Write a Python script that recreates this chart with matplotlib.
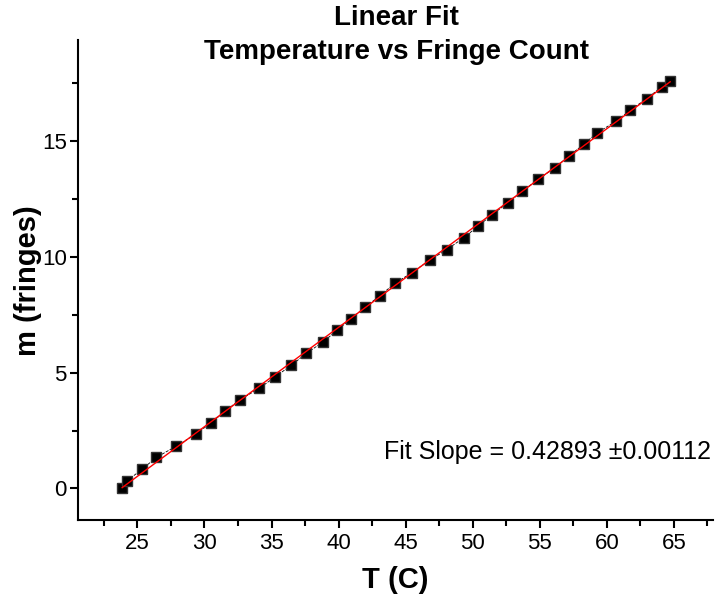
import matplotlib.pyplot as plt
from matplotlib.ticker import MultipleLocator
import numpy as np

plt.rcParams.update({
    "font.family": ["Liberation Sans", "DejaVu Sans"],
    "font.size": 16,
})

# Data
temp = [23.86, 24.23, 25.34, 26.41, 27.90, 29.33, 30.49, 31.56, 32.67, 34.08,
        35.27, 36.48, 37.59, 38.85, 39.89, 40.89, 42.00, 43.06, 44.18, 45.47,
        46.78, 48.06, 49.35, 50.41, 51.45, 52.64, 53.70, 54.87, 56.11, 57.15,
        58.26, 59.27, 60.68, 61.75, 62.96, 64.09, 64.72]
fringes = [0.00, 0.33, 0.83, 1.34, 1.83, 2.34, 2.83, 3.35, 3.84, 4.32,
           4.82, 5.32, 5.83, 6.33, 6.83, 7.31, 7.84, 8.31, 8.85, 9.32,
           9.85, 10.31, 10.83, 11.33, 11.82, 12.34, 12.83, 13.34, 13.84, 14.34,
           14.85, 15.35, 15.85, 16.33, 16.83, 17.33, 17.59]
slope_text = "Fit Slope = 0.42893 \u00b10.00112"

temp = np.array(temp)
fringes = np.array(fringes)
coef = np.polyfit(temp, fringes, 1)

fig = plt.figure(figsize=(7.2, 6), dpi=100)
ax = fig.add_axes([0.108, 0.133, 0.882, 0.80])

ax.plot(temp, fringes, color="black", lw=0.6, ls="--", zorder=2)
ax.plot(temp, fringes, ls="none", marker="s", ms=7.5, color="black",
        markeredgecolor="#333333", zorder=3)
ax.plot(temp, np.polyval(coef, temp), color="red", lw=1, zorder=4)

ax.set_xlim(20.55, 67.9)
ax.set_ylim(-1.37, 19.35)

ax.xaxis.set_major_locator(MultipleLocator(5))
ax.xaxis.set_minor_locator(MultipleLocator(2.5))
ax.yaxis.set_major_locator(MultipleLocator(5))
ax.yaxis.set_minor_locator(MultipleLocator(2.5))
ax.tick_params(which="major", direction="out", length=6, width=1.5, labelsize=16)
ax.tick_params(axis="y", which="major", pad=2)
ax.tick_params(which="minor", direction="out", length=4, width=1.5)

for side in ["top", "right"]:
    ax.spines[side].set_visible(False)
for side in ["left", "bottom"]:
    ax.spines[side].set_linewidth(1.5)

ax.set_xlabel("T (C)", fontsize=21, fontweight="bold", va="center", ha="center")
ax.set_ylabel("m (fringes)", fontsize=21, fontweight="bold", va="center", ha="center")
ax.xaxis.set_label_coords(0.5, -0.125)
ax.yaxis.set_label_coords(-0.079, 0.5)

ax.text(43.4, 1.57, slope_text, fontsize=18, ha="left", va="center")

fig.text(0.551, 0.941, "Linear Fit\nTemperature vs Fringe Count", ha="center",
         va="center", fontsize=20, fontweight="bold", linespacing=1.4)

fig.savefig("out.png", dpi=100)
